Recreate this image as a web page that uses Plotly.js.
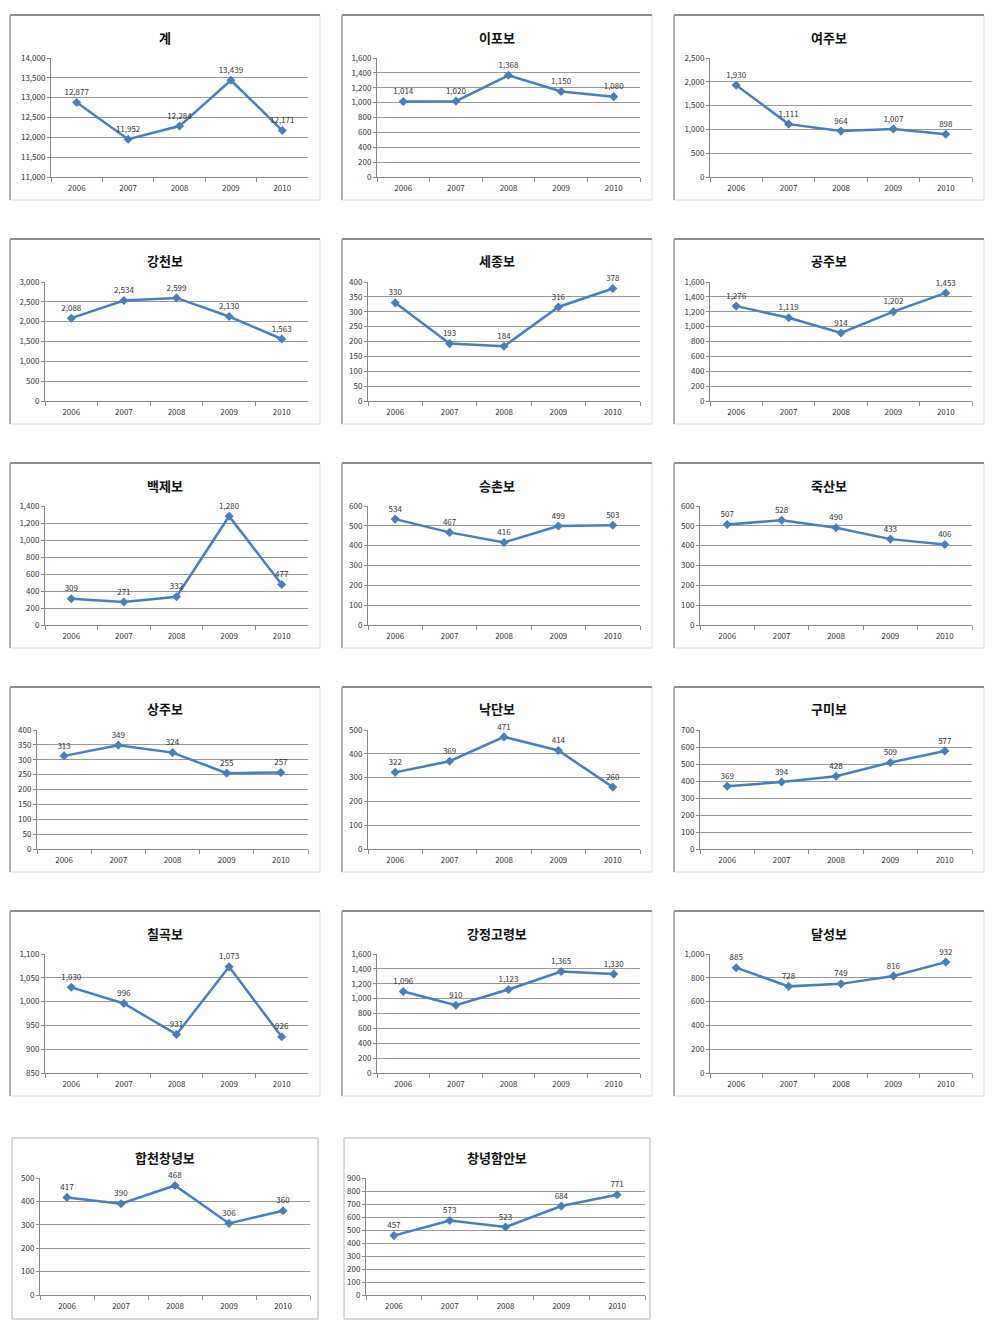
<!DOCTYPE html>
<html>
<head>
<meta charset="utf-8">
<script src="https://cdn.plot.ly/plotly-3.0.1.min.js"></script>
<style>
html,body{margin:0;padding:0;background:#fff;}
#chart{width:1007px;height:1329px;}
</style>
</head>
<body>
<div id="chart"></div>
<script>
// ---------- DATA ----------
const years = ['2006', '2007', '2008', '2009', '2010'];
const titles = ['계', '이포보', '여주보', '강천보', '세종보', '공주보', '백제보', '승촌보', '죽산보',
  '상주보', '낙단보', '구미보', '칠곡보', '강정고령보', '달성보', '합천창녕보', '창녕함안보'];

const gye          = [12877, 11952, 12284, 13439, 12171];
const ipo          = [1014, 1020, 1368, 1150, 1080];
const yeoju        = [1930, 1111, 964, 1007, 898];
const gangcheon    = [2088, 2534, 2599, 2130, 1563];
const sejong       = [330, 193, 184, 316, 378];
const gongju       = [1276, 1119, 914, 1202, 1453];
const baekje       = [309, 271, 332, 1280, 477];
const seungchon    = [534, 467, 416, 499, 503];
const juksan       = [507, 528, 490, 433, 406];
const sangju       = [313, 349, 324, 255, 257];
const nakdan       = [322, 369, 471, 414, 260];
const gumi         = [369, 394, 428, 509, 577];
const chilgok      = [1030, 996, 931, 1073, 926];
const gangjeong    = [1096, 910, 1123, 1365, 1330];
const dalseong     = [885, 728, 749, 816, 932];
const hapcheon     = [417, 390, 468, 306, 360];
const haman        = [457, 573, 523, 684, 771];

const seriesList = [gye, ipo, yeoju, gangcheon, sejong, gongju, baekje, seungchon, juksan,
  sangju, nakdan, gumi, chilgok, gangjeong, dalseong, hapcheon, haman];

// y axis scales: [min, max, step]
const yScales = [
  [11000, 14000, 500], [0, 1600, 200], [0, 2500, 500],
  [0, 3000, 500], [0, 400, 50], [0, 1600, 200],
  [0, 1400, 200], [0, 600, 100], [0, 600, 100],
  [0, 400, 50], [0, 500, 100], [0, 700, 100],
  [850, 1100, 50], [0, 1600, 200], [0, 1000, 200],
  [0, 500, 100], [0, 900, 100]
];

// ---------- LAYOUT GEOMETRY (pixels) ----------
const W = 1007, H = 1329;
const colLeft = [10, 342, 674];
const rowTop = [15, 239, 463, 687, 911];
const axisLeft = [51, 377, 710, 45, 368, 710, 45, 368, 700, 37, 368, 700, 45, 377, 710, 40, 366];
const plotRightCols = [308, 640, 972];

const px = x => x / W;
const py = y => 1 - y / H;

const BLUE = '#4A7EBB';
const FONT = 'Noto Sans CJK KR, Roboto, sans-serif';

const data = [];
const layout = {
  width: W, height: H,
  margin: {l: 0, r: 0, t: 0, b: 0},
  paper_bgcolor: '#fff', plot_bgcolor: '#fff',
  showlegend: false,
  separators: '.,',
  annotations: [],
  shapes: []
};

seriesList.forEach((vals, i) => {
  let fL, fT, fW, fH, pL, pR, pT, pB, titleY;
  if (i < 15) {
    const r = Math.floor(i / 3), c = i % 3;
    fL = colLeft[c]; fT = rowTop[r]; fW = 310; fH = 185;
    pL = axisLeft[i]; pR = plotRightCols[c];
    pT = fT + 43; pB = fT + 162; titleY = fT + 22;
  } else {
    const c = i - 15;
    fL = [12, 344][c]; fT = 1138; fW = 306; fH = 181;
    pL = axisLeft[i]; pR = [310, 645][c];
    pT = 1178; pB = 1295; titleY = 1157;
  }
  const n = i + 1;
  const xa = 'xaxis' + (n === 1 ? '' : n);
  const ya = 'yaxis' + (n === 1 ? '' : n);
  const xr = 'x' + (n === 1 ? '' : n);
  const yr = 'y' + (n === 1 ? '' : n);

  data.push({
    type: 'scatter',
    mode: 'lines+markers+text',
    x: years, y: vals,
    xaxis: xr, yaxis: yr,
    line: {color: BLUE, width: 2.5},
    marker: {symbol: 'diamond', size: 7, color: BLUE},
    texttemplate: '%{y:,}',
    textposition: 'top center',
    textfont: {family: FONT, size: 8, color: '#333'},
    cliponaxis: false,
    hoverinfo: 'skip'
  });

  const [ymin, ymax, step] = yScales[i];
  layout[xa] = {
    domain: [px(pL), px(pR)],
    anchor: yr,
    type: 'category',
    range: [-0.5, 4.5],
    tickson: 'boundaries',
    ticks: 'outside', ticklen: 4, tickcolor: '#888',
    ticklabelstandoff: 3,
    showline: true, linecolor: '#888', linewidth: 1,
    showgrid: false, zeroline: false,
    tickfont: {family: FONT, size: 8, color: '#333'},
    fixedrange: true
  };
  layout[ya] = {
    domain: [py(pB), py(pT)],
    anchor: xr,
    range: [ymin, ymax],
    tick0: ymin, dtick: step,
    tickformat: ',d',
    ticks: 'outside', ticklen: 3, tickcolor: '#888',
    showline: true, linecolor: '#888', linewidth: 1,
    showgrid: true, gridcolor: '#999999', gridwidth: 1,
    zeroline: false,
    tickfont: {family: FONT, size: 8, color: '#333'},
    fixedrange: true
  };

  layout.annotations.push({
    xref: 'paper', yref: 'paper',
    x: px(fL + fW / 2), y: py(titleY),
    xanchor: 'center', yanchor: 'middle',
    text: '<b>' + titles[i] + '</b>',
    showarrow: false,
    font: {family: FONT, size: 13, color: '#111'}
  });

  // frame
  layout.shapes.push({
    type: 'rect', xref: 'paper', yref: 'paper',
    x0: px(fL), x1: px(fL + fW), y0: py(fT + fH), y1: py(fT),
    line: {color: i < 15 ? '#dcdcdc' : '#b8b8b8', width: 1}
  });
  if (i < 15) {
    layout.shapes.push({
      type: 'line', xref: 'paper', yref: 'paper',
      x0: px(fL), x1: px(fL + fW), y0: py(fT), y1: py(fT),
      line: {color: '#8a8a8a', width: 2}
    });
    layout.shapes.push({
      type: 'line', xref: 'paper', yref: 'paper',
      x0: px(fL), x1: px(fL), y0: py(fT), y1: py(fT + fH),
      line: {color: '#9a9a9a', width: 1.5}
    });
  }
});

Plotly.newPlot('chart', data, layout, {displayModeBar: false, staticPlot: true});
</script>
</body>
</html>
